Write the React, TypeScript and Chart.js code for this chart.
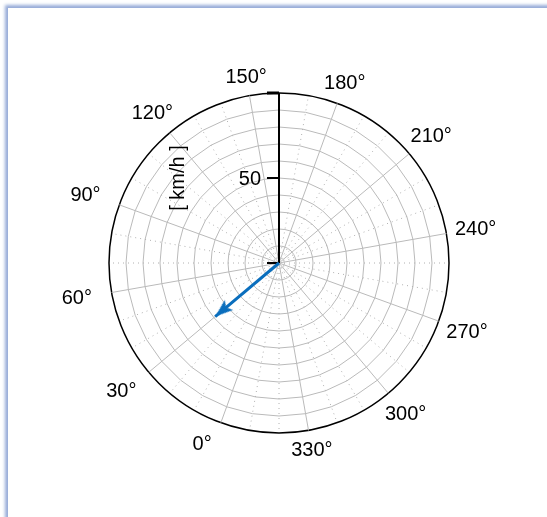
import React, { useEffect, useRef } from 'react';
import { Chart, registerables } from 'chart.js';

Chart.register(...registerables);

// ---- data ----
const ANGLE_LABELS = ['0', '30', '60', '90', '120', '150', '180', '210', '240', '270', '300', '330'];
const MINOR_ANGLES = [0, 10, 20, 30, 40, 50, 60, 70, 80, 90, 100, 110, 120, 130, 140, 150, 160, 170,
  180, 190, 200, 210, 220, 230, 240, 250, 260, 270, 280, 290, 300, 310, 320, 330, 340, 350];
const RADIAL_MIN = 0;
const RADIAL_MAX = 100;
const RING_STEP = 10;
const AXIS_TICKS = [0, 50, 100];
const AXIS_TICK_LABELS = ['', '50', ''];
const AXIS_TITLE = '[ km/h ]';
const ARROW_ANGLE = 30; // degrees
const ARROW_VALUE = 49; // km/h
const START_ANGLE = 200; // where the 0° label sits (clockwise from top)

// ---- style ----
const FONT = '20px "Liberation Sans", Arial, sans-serif';
const GRID_COLOR = '#bababa';
const MINOR_COLOR = '#b0b0b0';
const ARROW_COLOR = '#0a6ebd';
const LABEL_GAP = 8;

function makeArrowHead(): HTMLCanvasElement {
  const c = document.createElement('canvas');
  c.width = 16;
  c.height = 40;
  const g = c.getContext('2d')!;
  g.fillStyle = ARROW_COLOR;
  g.beginPath();
  g.moveTo(8, 20); // tip at the centre of the image
  g.lineTo(14.5, 38);
  g.lineTo(8, 34);
  g.lineTo(1.5, 38);
  g.closePath();
  g.fill();
  return c;
}

const polarDecor = {
  id: 'polarDecor',
  beforeDatasetsDraw(chart: any) {
    const s = chart.scales.r;
    const ctx = chart.ctx as CanvasRenderingContext2D;
    const xc = s.xCenter;
    const yc = s.yCenter;
    ctx.save();
    ctx.strokeStyle = '#000';
    ctx.lineWidth = 2;
    ctx.beginPath();
    ctx.moveTo(xc, yc);
    ctx.lineTo(xc, yc - s.getDistanceFromCenterForValue(RADIAL_MAX));
    ctx.stroke();
    ctx.font = FONT;
    ctx.fillStyle = '#000';
    ctx.textAlign = 'right';
    ctx.textBaseline = 'middle';
    AXIS_TICKS.forEach((v, i) => {
      const y = Math.round(yc - s.getDistanceFromCenterForValue(v));
      ctx.lineWidth = v === RADIAL_MAX ? 3 : 2;
      ctx.beginPath();
      ctx.moveTo(xc - 12, y);
      ctx.lineTo(xc, y);
      ctx.stroke();
      if (AXIS_TICK_LABELS[i]) ctx.fillText(AXIS_TICK_LABELS[i], xc - 18, y + 1);
    });
    const mid = yc - s.getDistanceFromCenterForValue((RADIAL_MIN + RADIAL_MAX) / 2);
    ctx.translate(xc - 101, mid);
    ctx.rotate(-Math.PI / 2);
    ctx.textAlign = 'center';
    ctx.fillText(AXIS_TITLE, 0, 0);
    ctx.restore();
  },
  afterDraw(chart: any) {
    const s = chart.scales.r;
    const ctx = chart.ctx as CanvasRenderingContext2D;
    ctx.save();
    ctx.font = FONT;
    ctx.fillStyle = '#000';
    ctx.textAlign = 'left';
    ctx.textBaseline = 'middle';
    const texts = ANGLE_LABELS.map((l) => l + '°');
    const boxW = Math.max(...texts.map((t) => ctx.measureText(t).width));
    const h = 15;
    texts.forEach((text, i) => {
      const a = s.getIndexAngle(i);
      const d = s.drawingArea + LABEL_GAP + (boxW / 2) * Math.abs(Math.sin(a)) + (h / 2) * Math.abs(Math.cos(a));
      const p = s.getPointPosition(i, d);
      ctx.fillText(text, p.x - boxW / 2, p.y + 1);
    });
    ctx.restore();
  },
};

export default function App() {
  const ref = useRef<HTMLCanvasElement>(null);

  useEffect(() => {
    if (!ref.current) return;
    const arrowIndex = ANGLE_LABELS.indexOf(String(ARROW_ANGLE));
    const arrowData = ANGLE_LABELS.map((_, i) =>
      i === arrowIndex ? ARROW_VALUE : i === arrowIndex + 1 ? RADIAL_MIN : null
    );
    const head = makeArrowHead();

    const chart = new Chart(ref.current, {
      type: 'radar',
      data: {
        labels: ANGLE_LABELS,
        datasets: [
          {
            data: arrowData,
            borderColor: ARROW_COLOR,
            backgroundColor: ARROW_COLOR,
            borderWidth: 3,
            fill: false,
            spanGaps: false,
            pointStyle: (c: any) => (c.dataIndex === arrowIndex ? head : 'circle'),
            pointRadius: (c: any) => (c.dataIndex === arrowIndex ? 6 : 0),
            pointRotation: START_ANGLE + ARROW_ANGLE,
            pointBorderWidth: 0,
            pointHoverRadius: 0,
          } as any,
        ],
      },
      options: {
        responsive: false,
        animation: false,
        devicePixelRatio: 1,
        layout: { padding: { left: 109, right: 98, top: 93, bottom: 84 } },
        plugins: { legend: { display: false }, tooltip: { enabled: false } },
        events: [],
        scales: {
          r: {
            min: RADIAL_MIN,
            max: RADIAL_MAX,
            startAngle: START_ANGLE,
            ticks: { display: false, stepSize: RADIAL_MAX - RADIAL_MIN },
            pointLabels: { display: false },
            grid: {
              circular: true,
              color: (c: any) => (c.tick && c.tick.value >= RADIAL_MAX ? '#000' : 'transparent'),
              lineWidth: 1.5,
            },
            angleLines: { display: true, color: GRID_COLOR, lineWidth: 1 },
          },
          rAux: {
            type: 'radialLinear',
            axis: 'r',
            z: -1,
            min: RADIAL_MIN,
            max: RADIAL_MAX,
            startAngle: START_ANGLE,
            labels: MINOR_ANGLES.map(String),
            ticks: { display: false, stepSize: RING_STEP },
            pointLabels: { display: false },
            grid: {
              circular: false,
              color: (c: any) => (c.tick && c.tick.value >= RADIAL_MAX ? 'transparent' : GRID_COLOR),
              lineWidth: 1,
            },
            angleLines: {
              display: true,
              color: MINOR_COLOR,
              lineWidth: (c: any) => (MINOR_ANGLES[c.index] % 30 === 0 ? 0 : 1),
              borderDash: [1, 4],
            },
          },
        } as any,
      },
      plugins: [polarDecor],
    });
    return () => chart.destroy();
  }, []);

  return (
    <div style={{ position: 'fixed', left: 0, top: 0, width: 547, height: 517, overflow: 'hidden', background: '#fff' }}>
      <div
        style={{
          position: 'absolute',
          left: 8,
          top: 8,
          width: 1000,
          height: 1000,
          background: '#fff',
          boxShadow: '0 0 3px 3px rgba(140,163,212,0.9)',
        }}
      />
      <canvas ref={ref} width={547} height={517} style={{ position: 'absolute', left: 0, top: 0 }} />
    </div>
  );
}
